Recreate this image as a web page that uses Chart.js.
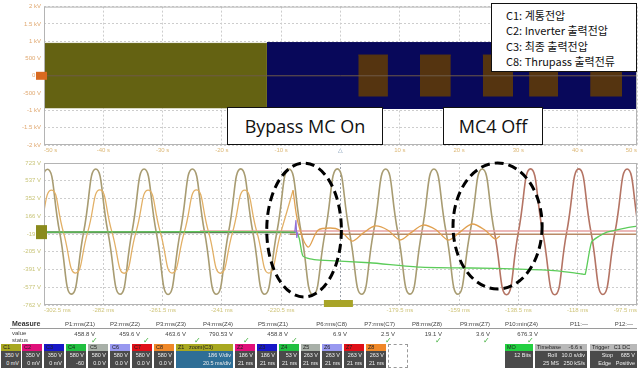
<!DOCTYPE html>
<html>
<head>
<meta charset="utf-8">
<script src="https://cdn.jsdelivr.net/npm/chart.js@4/dist/chart.umd.min.js"></script>
<style>
  body { margin:0; width:641px; height:371px; background:#fff; position:relative; overflow:hidden; font-family:"Liberation Sans", Arial, sans-serif; }
  .panel { position:absolute; left:0; width:641px; }
  #topPanel { top:0; height:155px; }
  #zoomPanel { top:150px; height:165px; }
  .note { position:absolute; background:#fff; border:1.5px solid #111; box-sizing:border-box; color:#111;
          font-family:"Open Sans","Noto Sans CJK KR",sans-serif; font-size:18px; display:flex; align-items:center; justify-content:center; z-index:5; }
  #legendBox { position:absolute; left:491px; top:3px; width:146px; height:69px; background:#fff; border:1.5px solid #111; box-sizing:border-box;
               font-family:"Noto Sans CJK KR",sans-serif; font-size:11px; line-height:15.3px; color:#111; padding:4px 0 0 14px; z-index:5; }
  #table { position:absolute; left:0; top:316px; width:641px; height:55px; font-size:6px; color:#444; }
  #table span { position:absolute; white-space:nowrap; }
  .box { position:absolute; top:28px; height:24px; box-sizing:border-box; }
  .box .hd { height:7px; font-size:5.5px; line-height:7px; padding-left:2px; color:#222; }
  .box .bd { height:17px; background:#4a4a4a; color:#eee; font-size:5.5px; line-height:8px; text-align:right; padding-right:2px; }
</style>
</head>
<body>
<div class="panel" id="topPanel"><canvas id="topChart"></canvas></div>
<div class="panel" id="zoomPanel"><canvas id="zoomChart"></canvas></div>

<div class="note" style="left:227px; top:107px; width:156px; height:38px;">Bypass MC On</div>
<div class="note" style="left:443px; top:107px; width:100px; height:38px;">MC4 Off</div>
<div id="legendBox">
  <div>C1: 계통전압</div>
  <div>C2: Inverter 출력전압</div>
  <div>C3: 최종 출력전압</div>
  <div>C8: Thrupass 출력전류</div>
</div>
<div id="table"></div>

<script>
// ---- top panel (roll mode, s / V)
const topXTicks = [-50, -40, -30, -20, -10, 0, 10, 20, 30, 40, 50];
const topXLabels = ['-50 s', '-40 s', '-30 s', '-20 s', '-10 s', '△', '10 s', '20 s', '30 s', '40 s', '50 s'];
const topYTicks = [2000, 1500, 1000, 500, 0, -500, -1000, -1500, -2000];
const topYLabels = ['2 kV', '1.5 kV', '1 kV', '500 V', '0 V', '-500 V', '-1 kV', '-1.5 kV', '-2 kV'];
const gridBandTimes = [-50, -12.4];
const gridBandLevels = [937, -937];
const invBandTimes = [-12.4, 50];
const invBandLevels = [960, -960];
const pulseStarts = [3.0, 13.4, 24.0, 31.8, 42.1];
const pulseEnds = [8.0, 18.6, 29.1, 36.7, 47.5];
const pulseLevels = [600, -600];

// ---- zoom panel (ms / V)
const zoomXTicks = [-302.5, -282, -261.5, -241, -220.5, -200, -179.5, -159, -138.5, -118, -97.5];
const zoomXLabels = ['-302.5 ms', '-282 ms', '-261.5 ms', '-241 ms', '-220.5 ms', '', '-179.5 ms', '-159 ms', '-138.5 ms', '-118 ms', '-97.5 ms'];
const zoomYTicks = [723, 537.4, 351.8, 166.1, -19.5, -205.1, -390.8, -576.4, -762];
const zoomYLabels = ['723 V', '537 V', '352 V', '166 V', '-19 V', '-205 V', '-391 V', '-577 V', '-762 V'];

const c3Times = [-305.5, -301.3, -297.1, -293.0, -288.8, -284.6, -280.4, -276.2, -272.1, -267.9, -263.7, -259.6, -255.4,
  -251.2, -247.0, -242.9, -238.7, -234.5, -230.3, -226.2, -222.0, -217.8, -213.6, -209.5, -205.3, -201.1, -196.9,
  -192.7, -188.6, -184.4, -180.2, -176.0, -171.9, -167.7, -163.5, -159.4, -155.2, -151.0, -146.8];
const c3Values = [0, 658, 0, -648, 0, 660, 0, -650, 0, 660, 0, -652, 0,
  660, 0, -650, 0, 662, 0, -650, 0, 660, 0, -655, 0, 662, 0,
  -650, 0, 660, 0, -648, 0, 660, 0, -650, 0, 660, 0];

const c1Times = [-146.8, -142.6, -138.5, -134.3, -130.1, -125.9, -121.8, -117.6, -113.4, -109.3, -105.1, -100.9, -96.7];
const c1Values = [0, -655, 0, 662, 0, -655, 0, 662, 0, -652, 0, 660, 0];

const c2Times = [-304.1, -299.9, -295.8, -291.6, -287.4, -283.2, -279.0, -274.8, -270.7, -266.5, -262.3,
  -258.2, -254.0, -249.8, -245.6, -241.5, -237.3, -233.1, -228.9, -224.8, -220.6, -216.4];
const c2Values = [0, 440, 0, -428, 0, 442, 0, -430, 0, 440, 0, -428, 0, 441, 0, -430, 0, 440, 0, -428, 0, 438];

const rippleTimes = [-216.4, -214.7, -211.2, -207.8, -203.6, -200.2, -196.0, -192.2, -188.1, -183.6,
  -179.4, -175.6, -171.5, -167.0, -162.8, -158.7, -154.5, -150.0, -146.6, -144.9];
const rippleValues = [438, 100, -156, 20, 43, 20, -93, -10, 64, 20, -82, -5, 74, 25, -82, 0, 85, 20, -70, -40];

const c8Times = [-302.5, -215.6, -214.3, -213.0, -210.5, -207.1, -190.0, -172.5, -155.0, -138.0, -125.0,
  -116.5, -115.4, -113.2, -110.5, -107.9, -102.0, -97.5];
const c8Values = [0, 0, -62, -250, -280, -292, -320, -365, -375, -386, -405, -438, -440, -103, -40, 1, 40, 64];

const c7Times = [-248.6, -97.5];
const c7Values = [12, 12];
const c6Times = [-217.5, -97.5];
const c6Values = [-22, -22];
const c5Times = [-302.5, -215.6];
const c5Values = [0, 0];
const spikeTimes = [-215.8, -215.4, -215.1, -214.8];
const spikeValues = [0, 125, -60, 0];

// dashed rings (centre ms / V, radius ms / V)
const rings = [{t: -212.6, v: 22, rt: 12.9, rv: 700}, {t: -145.7, v: 64, rt: 15.4, rv: 659}];

// measurement strip
const measureNames = ['P1:rms(Z1)', 'P2:rms(Z2)', 'P3:rms(Z3)', 'P4:rms(Z4)', 'P5:rms(Z1)', 'P6:rms(C8)', 'P7:rms(C7)', 'P8:rms(Z8)', 'P9:rms(Z7)', 'P10:min(Z4)', 'P11:---', 'P12:---'];
const measureValues = ['458.8 V', '459.6 V', '463.6 V', '790.53 V', '458.8 V', '6.9 V', '2.5 V', '19.1 V', '3.6 V', '676.3 V', '', ''];
const measureOk = [1, 1, 1, 1, 1, 0, 1, 1, 1, 1, 0, 0];


const pts = (ts, vs) => ts.map((t, i) => ({x: t, y: vs[i]}));
const line = (ts, vs, color, width, tension, order) => ({
  data: pts(ts, vs), borderColor: color, borderWidth: width, tension: tension,
  pointRadius: 0, fill: false, order: order
});
const band = (ts, levels, color, order) => ({
  data: pts(ts, [levels[0], levels[0]]), borderColor: color, backgroundColor: color, borderWidth: 1,
  pointRadius: 0, tension: 0, fill: {value: levels[1]}, order: order
});

const frame = {
  id: 'frame',
  afterDatasetsDraw(chart, args, opts) {
    const {ctx, chartArea: a, scales: {x, y}} = chart;
    ctx.save();
    ctx.strokeStyle = '#b4b4b4';
    ctx.lineWidth = 1;
    ctx.strokeRect(a.left + 0.5, a.top + 0.5, a.width - 1, a.height - 1);
    const y0 = y.getPixelForValue(0);
    ctx.fillStyle = opts.marker;
    ctx.fillRect(a.left - 8, y0 - opts.markerH / 2, 11, opts.markerH);
    if (opts.tag !== undefined) {
      ctx.fillStyle = '#a8a428';
      ctx.fillRect(x.getPixelForValue(opts.tag) - 14, a.bottom - 5, 29, 7);
    }
    (opts.rings || []).forEach(r => {
      const cx = x.getPixelForValue(r.t), cy = y.getPixelForValue(r.v);
      const rx = Math.abs(x.getPixelForValue(r.t + r.rt) - cx);
      const ry = Math.abs(y.getPixelForValue(r.v + r.rv) - cy);
      ctx.setLineDash([9, 5]);
      ctx.lineWidth = 3;
      ctx.strokeStyle = '#000';
      ctx.beginPath();
      ctx.ellipse(cx, cy, rx, ry, 0, 0, Math.PI * 2);
      ctx.stroke();
    });
    ctx.restore();
  }
};

const axisFont = {family: 'Liberation Sans', size: 6};

//TOP PANEL
const topDatasets = [
  line([-50, 50], [0, 0], '#6e5a48', 1, 0, 0),
  ...pulseStarts.map((s, i) => band([s, pulseEnds[i]], pulseLevels, '#553410', 1)),
  band(invBandTimes, invBandLevels, '#08085a', 2),
  band(gridBandTimes, gridBandLevels, '#646212', 2)
];

new Chart(document.getElementById('topChart'), {
  type: 'line',
  data: {datasets: topDatasets},
  plugins: [frame],
  options: {
    responsive: true, maintainAspectRatio: false, animation: false,
    layout: {padding: {top: 2, right: 4, left: 0, bottom: 0}},
    plugins: {legend: {display: false}, tooltip: {enabled: false}, frame: {marker: '#d86a20', markerH: 8}},
    scales: {
      x: {
        type: 'linear', min: -50, max: 50,
        afterBuildTicks: s => { s.ticks = topXTicks.map(v => ({value: v})); },
        afterFit: s => { s.height = 10; },
        ticks: {callback: (v, i) => topXLabels[i], font: axisFont, padding: 2, maxRotation: 0, autoSkip: false, align: 'inner',
                color: c => c.index === 5 ? '#6a88a8' : '#dcb878'},
        grid: {color: '#cdcdcd', drawTicks: false},
        border: {display: false, dash: [2, 2]}
      },
      y: {
        min: -2000, max: 2000,
        afterBuildTicks: s => { s.ticks = topYTicks.map(v => ({value: v})); },
        afterFit: s => { s.width = 44; },
        ticks: {callback: (v, i) => topYLabels[i], font: axisFont, padding: 3, autoSkip: false, color: '#e0a870'},
        grid: {color: '#cdcdcd', drawTicks: false},
        border: {display: false, dash: [2, 2]}
      }
    }
  }
});

//ZOOM PANEL
const zoomDatasets = [
  line(spikeTimes, spikeValues, '#8f70d8', 1.2, 0, 0),
  line(c8Times, c8Values, '#5ccc5a', 1.3, 0.2, 0),
  line(rippleTimes, rippleValues, '#e0a050', 1.3, 0.3, 1),
  line(c7Times, c7Values, '#e6a0a0', 1.6, 0, 1),
  line(c6Times, c6Values, '#b88a66', 1.6, 0, 1),
  line(c2Times, c2Values, '#e2b066', 1.3, 0.55, 2),
  line(c1Times, c1Values, '#b47464', 1.6, 0.55, 3),
  line(c3Times, c3Values, '#a89c72', 1.6, 0.55, 3),
  line(c5Times, c5Values, '#5e6a52', 2, 0, 4)
];

new Chart(document.getElementById('zoomChart'), {
  type: 'line',
  data: {datasets: zoomDatasets},
  plugins: [frame],
  options: {
    responsive: true, maintainAspectRatio: false, animation: false,
    layout: {padding: {top: 13, right: 4, left: 0, bottom: 0}},
    plugins: {legend: {display: false}, tooltip: {enabled: false},
              frame: {marker: '#8a8a1c', markerH: 14, tag: -200.9, rings: rings}},
    scales: {
      x: {
        type: 'linear', min: -302.5, max: -97.5,
        afterBuildTicks: s => { s.ticks = zoomXTicks.map(v => ({value: v})); },
        afterFit: s => { s.height = 10; },
        ticks: {callback: (v, i) => zoomXLabels[i], font: axisFont, padding: 2, maxRotation: 0, autoSkip: false, align: 'inner', color: '#cfc47a'},
        grid: {color: c => c.index === 5 ? '#9aa0a8' : '#cdcdcd', drawTicks: false},
        border: {display: false, dash: [2, 2]}
      },
      y: {
        min: -762, max: 723,
        afterBuildTicks: s => { s.ticks = zoomYTicks.map(v => ({value: v})); },
        afterFit: s => { s.width = 44; },
        ticks: {callback: (v, i) => zoomYLabels[i], font: axisFont, padding: 3, autoSkip: false, color: '#c8c478'},
        grid: {color: '#cdcdcd', drawTicks: false},
        border: {display: false, dash: [2, 2]}
      }
    }
  }
});

//MEASURE STRIP
const table = document.getElementById('table');
const put = (html, css) => {
  const el = document.createElement('span');
  el.innerHTML = html;
  el.style.cssText = css;
  table.appendChild(el);
  return el;
};
const colRight = [95, 140, 186, 233, 288, 347, 395, 442, 490, 538, 588, 633];
const checkX = [91, 143, 194, 243, 291, 0, 385, 435, 483, 527];
put('Measure', 'left:12px; top:4px; font-weight:bold; font-size:7px; color:#333;');
put('value', 'left:12px; top:14px;');
put('status', 'left:12px; top:21px;');
put('', 'left:10px; top:12px; width:627px; border-top:1px solid #9a9a9a;');
measureNames.forEach((n, i) => {
  put(n, `right:${641 - colRight[i]}px; top:5px;`);
  put(measureValues[i], `right:${641 - colRight[i]}px; top:15px;`);
  if (measureOk[i]) put('✓', `left:${checkX[i]}px; top:20px; color:#3fae3a; font-size:8px; font-family:'DejaVu Sans';`);
});

const boxes = [
  ['C1', '#a8a820', 1, 20, '350 V', '0 mV'], ['C2', '#e0107a', 22, 20, '350 V', '0 mV'],
  ['C3', '#1818c8', 44, 20, '350 V', '0 mV'], ['C4', '#20c040', 66, 20, '580 V', '-60'],
  ['C5', '#a8b0a8', 88, 20, '580 V', '0.0 V'], ['C6', '#9898f0', 110, 20, '580 V', '0.0 V'],
  ['C7', '#e01018', 132, 20, '580 V', '0.0 V'], ['C8', '#f08828', 154, 20, '580 V', '0.0 V'],
  ['Z1 &nbsp; zoom(C3)', '#a8a820', 176, 57, '186 V/div', '20.5 ms/div'],
  ['Z2', '#e0107a', 235, 20, '186 V', '21 ms'], ['Z3', '#1818c8', 257, 20, '186 V', '21 ms'],
  ['Z4', '#20c040', 279, 20, '53 V', '21 ms'], ['Z5', '#a8b0a8', 301, 19, '263 V', '21 ms'],
  ['Z6', '#9898f0', 322, 20, '263 V', '21 ms'], ['Z7', '#e01018', 344, 20, '263 V', '21 ms'],
  ['Z8', '#f08828', 366, 20, '263 V', '21 ms'],
  ['MO', '#22d040', 505, 28, '12 Bits', ''],
  ['Timebase &nbsp; &nbsp; -6.6 s', '#b8b8b8', 535, 52, 'Roll &nbsp; 10.0 s/div', '25 MS &nbsp; 250 kS/s'],
  ['Trigger &nbsp; C1 DC', '#b8b8b8', 590, 47, 'Stop &nbsp; &nbsp; 685 V', 'Edge &nbsp; Positive']
];
boxes.forEach(b => {
  const d = document.createElement('div');
  d.className = 'box';
  d.style.left = b[2] + 'px';
  d.style.width = b[3] + 'px';
  const body = b[0].startsWith('Z1') ? 'background:#2e6e96;' : '';
  d.innerHTML = `<div class="hd" style="background:${b[1]}">${b[0]}</div><div class="bd" style="${body}">${b[4]}<br>${b[5]}</div>`;
  table.appendChild(d);
});
const empty = document.createElement('div');
empty.className = 'box';
empty.style.cssText = 'left:388px; width:20px; border:1px dashed #999;';
table.appendChild(empty);
</script>
</body>
</html>
